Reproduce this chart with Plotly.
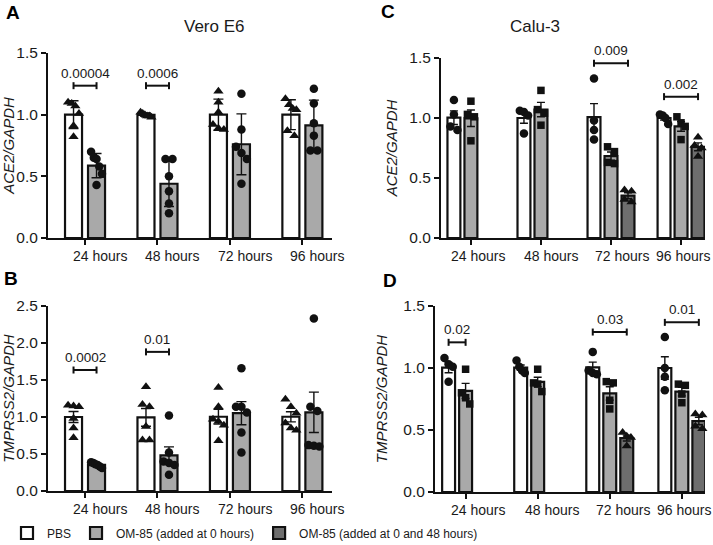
import numpy as np
import plotly.graph_objects as go

W, H = 713, 545
FONT = "Liberation Sans, Arial, sans-serif"

hours = ["24 hours", "48 hours", "72 hours", "96 hours"]
series_names = ["PBS", "OM-85 (added at 0 hours)", "OM-85 (added at 0 and 48 hours)"]
series_fill = ["white", "#a9a9a9", "#6e6e6e"]

# A - Vero E6, ACE2/GAPDH (replicates per time point)
vero_ace2_pbs = [[1.10, 1.09, 1.07, 1.01, 0.91, 0.82],
                 [1.02, 1.01, 1.00, 0.99, 0.99, 0.98],
                 [1.19, 1.10, 1.02, 0.92, 0.89, 0.88],
                 [1.13, 1.08, 1.05, 1.04, 0.87, 0.83]]
vero_ace2_om0 = [[0.70, 0.65, 0.64, 0.58, 0.52, 0.43],
                 [0.64, 0.64, 0.50, 0.38, 0.28, 0.20],
                 [1.17, 0.88, 0.74, 0.69, 0.64, 0.44],
                 [1.21, 1.09, 0.93, 0.83, 0.71, 0.71]]

# B - Vero E6, TMPRSS2/GAPDH
vero_tmprss2_pbs = [[1.16, 1.15, 1.14, 0.98, 0.85, 0.72],
                    [1.41, 1.17, 1.14, 0.87, 0.69, 0.69],
                    [1.40, 1.14, 0.97, 0.94, 0.89, 0.68],
                    [1.24, 1.14, 1.05, 0.92, 0.85, 0.82]]
vero_tmprss2_om0 = [[0.39, 0.38, 0.36, 0.35, 0.33, 0.31],
                    [1.02, 0.52, 0.40, 0.38, 0.35, 0.22],
                    [1.66, 1.14, 1.14, 1.06, 0.79, 0.52],
                    [2.33, 1.14, 1.08, 0.62, 0.61, 0.60]]

# C - Calu-3, ACE2/GAPDH
calu_ace2_pbs = [[1.15, 1.03, 0.93, 0.90],
                 [1.06, 1.05, 1.02, 0.87],
                 [1.33, 0.98, 0.90, 0.82],
                 [1.03, 1.02, 1.00, 0.95]]
calu_ace2_om0 = [[1.14, 1.03, 1.01, 0.81],
                 [1.23, 1.07, 1.04, 0.94],
                 [0.76, 0.72, 0.63, 0.62],
                 [1.01, 0.96, 0.93, 0.82]]
calu_ace2_om048 = [None, None,
                   [0.40, 0.39, 0.32, 0.30],
                   [0.84, 0.77, 0.75, 0.68]]

# D - Calu-3, TMPRSS2/GAPDH
calu_tmprss2_pbs = [[1.08, 1.03, 1.01, 0.89],
                    [1.06, 1.01, 0.98, 0.96],
                    [1.13, 0.98, 0.96, 0.95],
                    [1.25, 1.00, 0.93, 0.82]]
calu_tmprss2_om0 = [[0.99, 0.80, 0.76, 0.71],
                    [0.99, 0.88, 0.87, 0.81],
                    [0.89, 0.88, 0.74, 0.67],
                    [0.87, 0.86, 0.79, 0.72]]
calu_tmprss2_om048 = [None, None,
                      [0.48, 0.45, 0.44, 0.37],
                      [0.63, 0.62, 0.53, 0.51]]

# p values: (time point index, bracket height, label)
vero_ace2_p = [(0, 1.235, "0.00004"), (1, 1.235, "0.0006")]
vero_tmprss2_p = [(0, 1.635, "0.0002"), (1, 1.88, "0.01")]
calu_ace2_p = [(2, 1.456, "0.009"), (3, 1.178, "0.002")]
calu_tmprss2_p = [(0, 1.207, "0.02"), (2, 1.29, "0.03"), (3, 1.368, "0.01")]

# panel geometry in pixels: (left, right, top, bottom)
panels = [
    dict(letter="A", series=[vero_ace2_pbs, vero_ace2_om0, None], err="sd",
         ylab="ACE2/GAPDH", ymax=1.5, box=(48, 332, 53, 238), first=1.61, pitch=3.15,
         slot=23, bw=0.74, offs=[-0.5, 0.5], syms=["triangle-up", "circle"], cap=5,
         shifts=[15, 15, 15, 15], pv=vero_ace2_p, standoff=2, letter_xy=(13, 12)),
    dict(letter="B", series=[vero_tmprss2_pbs, vero_tmprss2_om0, None], err="sem",
         ylab="TMPRSS2/GAPDH", ymax=2.5, box=(48, 332, 306, 491), first=1.61, pitch=3.15,
         slot=23, bw=0.74, offs=[-0.5, 0.5], syms=["triangle-up", "circle"], cap=5,
         shifts=[15, 15, 15, 15], pv=vero_tmprss2_p, standoff=2, letter_xy=(11, 278)),
    dict(letter="C", series=[calu_ace2_pbs, calu_ace2_om0, calu_ace2_om048], err="sem",
         ylab="ACE2/GAPDH", ymax=1.5, box=(441, 705, 58, 238), first=1.76, pitch=4.12,
         slot=17, bw=0.76, offs=[-1, 0, 1], syms=["circle", "square", "triangle-up"], cap=4,
         shifts=[7, 10, 11, 2], pv=calu_ace2_p, standoff=8, letter_xy=(388, 11)),
    dict(letter="D", series=[calu_tmprss2_pbs, calu_tmprss2_om0, calu_tmprss2_om048], err="sem",
         ylab="TMPRSS2/GAPDH", ymax=1.5, box=(435, 705, 306, 492), first=1.8, pitch=4.24,
         slot=17, bw=0.76, offs=[-1, 0, 1], syms=["circle", "square", "triangle-up"], cap=4,
         shifts=[12, 14, 13, 2], pv=calu_tmprss2_p, standoff=12, letter_xy=(390, 280)),
]
sym_size = {"circle": 8.5, "square": 7.5, "triangle-up": 9}


def spread(vals, thr, step, maxhalf):
    # horizontal spreading of overlapping points, like a scatter dot plot
    order = np.argsort(vals)[::-1]
    clusters = []
    for idx in order:
        if clusters and vals[clusters[-1][-1]] - vals[idx] < thr:
            clusters[-1].append(idx)
        else:
            clusters.append([idx])
    out = np.zeros(len(vals))
    for c in clusters:
        k = len(c)
        if k == 1:
            continue
        half = min((k - 1) / 2 * step, maxhalf)
        for j, idx in enumerate(c):
            out[idx] = -half + 2 * half * j / (k - 1)
    return out


fig = go.Figure()
shapes, annotations = [], []
legend_done = set()

for n, p in enumerate(panels):
    xa = "x" if n == 0 else f"x{n + 1}"
    ya = "y" if n == 0 else f"y{n + 1}"
    left, right, top, bottom = p["box"]
    xmax = (right - left) / p["slot"]
    ppu = (bottom - top) / p["ymax"]
    centers = [p["first"] + p["pitch"] * i for i in range(4)]

    for s, data in enumerate(p["series"]):
        if data is None:
            continue
        xs, means, errs, px, py = [], [], [], [], []
        for g, vals in enumerate(data):
            if vals is None:
                continue
            v = np.array(vals)
            x0 = centers[g] + p["offs"][s]
            sd = v.std(ddof=1)
            xs.append(x0)
            means.append(v.mean())
            errs.append(sd if p["err"] == "sd" else sd / np.sqrt(len(v)))
            jit = spread(v, 7.5 / ppu, 7 / p["slot"], 0.32 * p["bw"])
            px += list(x0 + jit)
            py += list(v)
        show = series_names[s] not in legend_done
        legend_done.add(series_names[s])
        fig.add_trace(go.Bar(
            x=xs, y=means, width=p["bw"], name=series_names[s],
            legendgroup=series_names[s], showlegend=show,
            marker=dict(color=series_fill[s], line=dict(color="#111", width=2.2)),
            error_y=dict(type="data", array=errs, color="#111", thickness=1.4, width=p["cap"]),
            xaxis=xa, yaxis=ya, hoverinfo="skip"))
        sym = p["syms"][s]
        fig.add_trace(go.Scatter(
            x=px, y=py, mode="markers", showlegend=False, hoverinfo="skip",
            marker=dict(symbol=sym, size=sym_size[sym], color="#111"),
            xaxis=xa, yaxis=ya, cliponaxis=False))

    # significance brackets
    cap = 3.5 / ppu
    for g, yb, lab in p["pv"]:
        present = [s for s, d in enumerate(p["series"]) if d is not None and d[g] is not None]
        xl = centers[g] + p["offs"][present[0]]
        xr = centers[g] + p["offs"][present[-1]]
        line = dict(color="#111", width=2)
        shapes.append(dict(type="line", xref=xa, yref=ya, x0=xl, x1=xr, y0=yb, y1=yb, line=line))
        for xx in (xl, xr):
            shapes.append(dict(type="line", xref=xa, yref=ya, x0=xx, x1=xx,
                               y0=yb - cap, y1=yb + cap, line=line))
        annotations.append(dict(xref=xa, yref=ya, x=(xl + xr) / 2, y=yb, text=lab,
                                showarrow=False, yanchor="bottom", yshift=3,
                                font=dict(size=13.5, color="#1a1a1a")))

    # x tick labels (set off to the right of the tick, as in the figure)
    for g, lab in enumerate(hours):
        annotations.append(dict(xref=xa, yref=ya, x=centers[g], y=0, text=lab,
                                showarrow=False, yanchor="middle", yshift=-18,
                                xshift=p["shifts"][g],
                                font=dict(size=14, color="#1a1a1a")))

    annotations.append(dict(xref="paper", yref="paper", x=p["letter_xy"][0] / W,
                            y=1 - p["letter_xy"][1] / H, text="<b>" + p["letter"] + "</b>",
                            showarrow=False, xanchor="center", yanchor="middle",
                            font=dict(size=19, color="black")))

    fig.update_layout({
        ("xaxis" if n == 0 else f"xaxis{n + 1}"): dict(
            domain=[left / W, right / W], range=[0, xmax], anchor=ya,
            showline=True, linecolor="#111", linewidth=2, mirror=False,
            ticks="outside", ticklen=5, tickwidth=1.8, tickcolor="#111",
            tickvals=centers, showticklabels=False, showgrid=False, zeroline=False,
            fixedrange=True),
        ("yaxis" if n == 0 else f"yaxis{n + 1}"): dict(
            domain=[1 - bottom / H, 1 - top / H], range=[0, p["ymax"]], anchor=xa,
            showline=True, linecolor="#111", linewidth=2,
            ticks="outside", ticklen=5, tickwidth=1.8, tickcolor="#111",
            dtick=0.5, tickformat=".1f", showgrid=False, zeroline=False,
            tickfont=dict(size=15.5, color="#1a1a1a"),
            title=dict(text="<i>" + p["ylab"] + "</i>", standoff=p["standoff"],
                       font=dict(size=15, color="#1a1a1a")),
            fixedrange=True),
    })

annotations.append(dict(xref="paper", yref="paper", x=182 / W, y=1 - 15 / H, text="Vero E6",
                        showarrow=False, font=dict(size=17, color="#1a1a1a")))
annotations.append(dict(xref="paper", yref="paper", x=562 / W, y=1 - 15 / H, text="Calu-3",
                        showarrow=False, font=dict(size=17, color="#1a1a1a")))

fig.update_layout(
    width=W, height=H,
    margin=dict(l=0, r=0, t=0, b=0, autoexpand=False),
    paper_bgcolor="white", plot_bgcolor="white",
    font=dict(family=FONT, color="#1a1a1a"),
    barmode="overlay",
    shapes=shapes, annotations=annotations,
    legend=dict(orientation="h", x=7 / W, y=1 - 533 / H, xanchor="left", yanchor="middle",
                font=dict(size=12, color="#1a1a1a"), traceorder="normal",
                itemclick=False, itemdoubleclick=False),
)

# page without body margin so the figure fills the window exactly
fig.write_html("out.html", config={"displayModeBar": False},
               post_script="document.body.style.margin='0';document.body.style.overflow='hidden';")
